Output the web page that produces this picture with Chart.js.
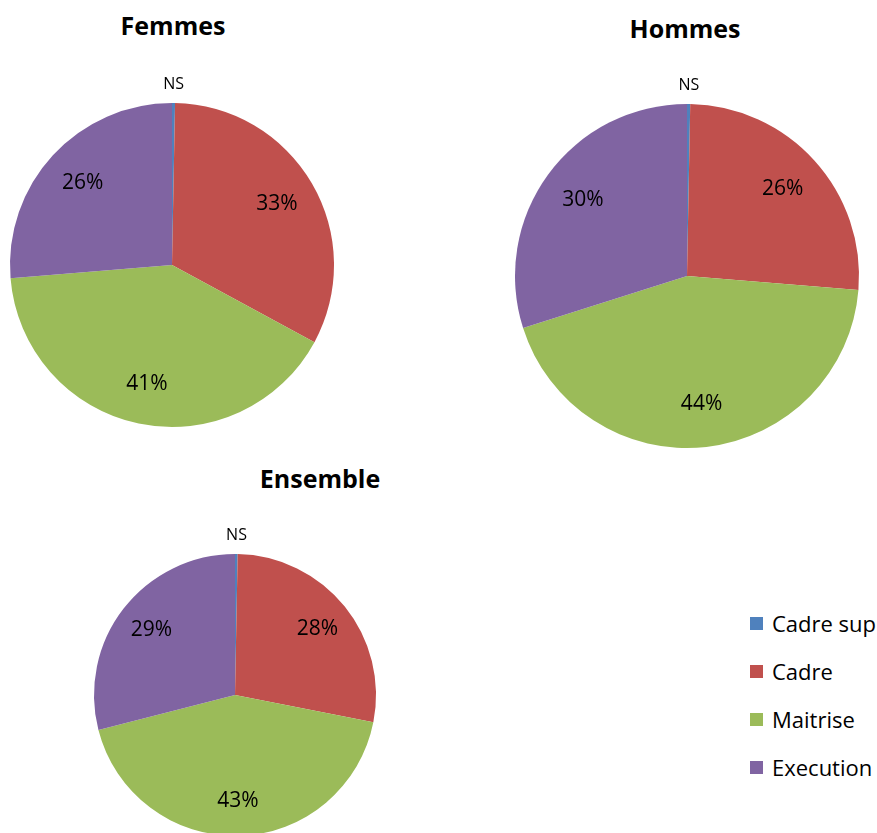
<!DOCTYPE html>
<html lang="fr">
<head>
    <meta charset="UTF-8">
    <title>Répartition par catégorie</title>
    <script src="https://cdn.jsdelivr.net/npm/chart.js"></script>
    <style>
        body {
            margin: 0;
            width: 877px;
            height: 833px;
            overflow: hidden;
            background: #fff;
            font-family: "Open Sans", "Noto Sans", sans-serif;
            position: relative;
        }
        .box { position: absolute; }
        .titre {
            position: absolute;
            font-weight: bold;
            font-size: 25px;
            color: #000;
            transform: translate(-50%, -50%);
            white-space: nowrap;
        }
        #legende {
            position: absolute;
            left: 750px;
            top: 599px;
        }
        .item {
            height: 48px;
            display: flex;
            align-items: center;
            font-size: 22px;
            white-space: nowrap;
        }
        .carre {
            width: 13px;
            height: 13px;
            margin-right: 9px;
        }
    </style>
</head>
<body>

<div class="titre" style="left:173px; top:25px;">Femmes</div>
<div class="titre" style="left:685px; top:28px;">Hommes</div>
<div class="titre" style="left:320px; top:478px;">Ensemble</div>

<div class="box" style="left:0px; top:60px; width:345px; height:380px;"><canvas id="pieFemmes"></canvas></div>
<div class="box" style="left:500px; top:60px; width:377px; height:400px;"><canvas id="pieHommes"></canvas></div>
<div class="box" style="left:60px; top:500px; width:360px; height:340px;"><canvas id="pieEnsemble"></canvas></div>

<div id="legende"></div>

<script>
    // categories et valeurs (%)
    var categories = ['Cadre sup', 'Cadre', 'Maitrise', 'Execution'];
    var couleurs = ['#4F81BD', '#C0504D', '#9BBB59', '#8064A2'];
    var femmes = [0.3, 32.6, 40.8, 26.3];
    var hommes = [0.3, 26.0, 43.8, 29.9];
    var ensemble = [0.3, 27.8, 42.9, 29.0];

    // etiquettes sur les parts
    var etiquettes = {
        id: 'etiquettes',
        afterDatasetsDraw: function(chart) {
            var ctx = chart.ctx;
            var meta = chart.getDatasetMeta(0);
            var valeurs = chart.data.datasets[0].data;
            ctx.save();
            ctx.fillStyle = '#000';
            ctx.textAlign = 'center';
            ctx.textBaseline = 'middle';
            meta.data.forEach(function(arc, i) {
                var p = arc.getProps(['x', 'y', 'startAngle', 'endAngle', 'outerRadius'], true);
                var a = (p.startAngle + p.endAngle) / 2;
                var r, txt;
                if (i === 0) {
                    r = p.outerRadius + 19;
                    txt = 'NS';
                    ctx.font = '16px "Open Sans", sans-serif';
                } else {
                    r = p.outerRadius * 0.75;
                    txt = Math.round(valeurs[i]) + '%';
                    ctx.font = '21px "Open Sans", sans-serif';
                }
                ctx.fillText(txt, p.x + Math.cos(a) * r, p.y + Math.sin(a) * r);
            });
            ctx.restore();
        }
    };

    function camembert(id, valeurs, pad) {
        return new Chart(document.getElementById(id), {
            type: 'pie',
            data: {
                labels: categories,
                datasets: [{
                    data: valeurs,
                    backgroundColor: couleurs,
                    borderWidth: 0
                }]
            },
            options: {
                responsive: true,
                maintainAspectRatio: false,
                animation: false,
                layout: { padding: pad },
                plugins: {
                    legend: { display: false },
                    tooltip: { enabled: false }
                }
            },
            plugins: [etiquettes]
        });
    }

    camembert('pieFemmes', femmes, { left: 10, right: 11, top: 43, bottom: 13 });
    camembert('pieHommes', hommes, { left: 15, right: 18, top: 44, bottom: 12 });
    camembert('pieEnsemble', ensemble, { left: 34, right: 44, top: 54, bottom: 4 });

    // legende
    var leg = document.getElementById('legende');
    categories.forEach(function(c, i) {
        var d = document.createElement('div');
        d.className = 'item';
        d.innerHTML = '<span class="carre" style="background:' + couleurs[i] + '"></span>' + c;
        leg.appendChild(d);
    });
</script>

</body>
</html>
